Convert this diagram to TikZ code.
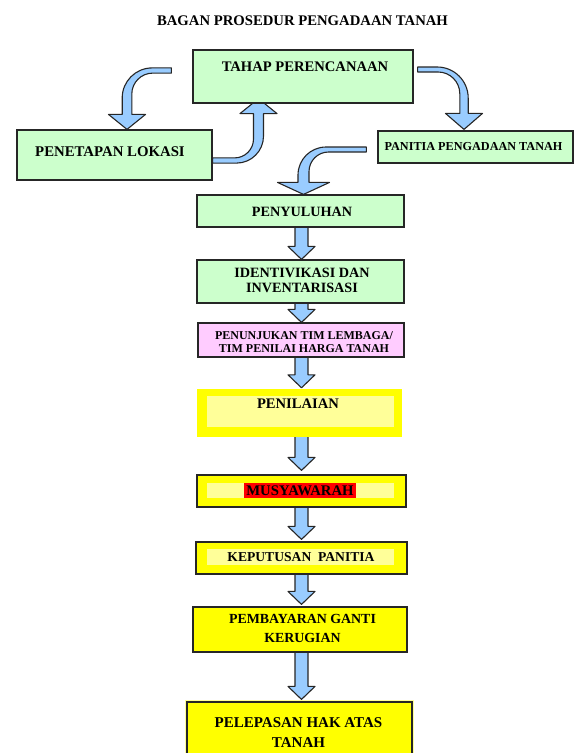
\documentclass[tikz,border=0pt]{standalone}
\usepackage{fontspec}
\setmainfont{Liberation Serif}
\usetikzlibrary{calc}
\pgfdeclarelayer{background}
\pgfsetlayers{background,main}

\definecolor{boxgreen}{HTML}{CCFFCC}
\definecolor{boxpink}{HTML}{FFCCFF}
\definecolor{boxyellow}{HTML}{FFFF00}
\definecolor{paleyellow}{HTML}{FFFF99}
\definecolor{arrowblue}{HTML}{99CCFF}
\definecolor{edgegray}{HTML}{262626}
\definecolor{markred}{HTML}{FF0000}

\newcommand\fs[2]{\fontsize{#1}{#2}\selectfont}

% straight block arrow from the bottom of one box to the top of the next
% #1 source node, #2 target node, #3 gap left above the target
\newcommand\vblock[3]{%
  \path[blockarrow] let \p1=(axis |- #1.south), \p2=(axis |- #2.north) in
    ({\x1-6.5pt},{\y1+1pt}) -- ({\x1-6.5pt},{\y2+#3+13pt})
    -- ({\x1-13.5pt},{\y2+#3+13pt}) -- (\x1,{\y2+#3})
    -- ({\x1+13.5pt},{\y2+#3+13pt}) -- ({\x1+6.5pt},{\y2+#3+13pt})
    -- ({\x1+6.5pt},{\y1+1pt}) -- cycle;}

% bent block arrow: horizontal tail turning into a vertical shaft with a head
% #1 tail, #2 tip, #3 side (+1 tail right of tip, -1 left), #4 head direction
% (-1 down, +1 up), #5 tail half width, #6 shaft half width, #7 head half width,
% #8 head length, #9 outer bend radius (inner radius is 0.7 of it)
\newcommand\bentarrow[9]{%
  \path[blockarrow] let \p1=(#1), \p2=(#2) in
    (\x1,{\y1-(#4)*(#5)})
    -- ({\x2-(#3)*(#6)+(#3)*(#9)},{\y1-(#4)*(#5)})
    .. controls ({\x2-(#3)*(#6)+(#3)*0.448*(#9)},{\y1-(#4)*(#5)})
            and ({\x2-(#3)*(#6)},{\y1-(#4)*(#5)+(#4)*0.448*(#9)}) ..
    ({\x2-(#3)*(#6)},{\y1-(#4)*(#5)+(#4)*(#9)})
    -- ({\x2-(#3)*(#6)},{\y2-(#4)*(#8)})
    -- ({\x2-(#3)*(#7)},{\y2-(#4)*(#8)})
    -- (\x2,\y2)
    -- ({\x2+(#3)*(#7)},{\y2-(#4)*(#8)})
    -- ({\x2+(#3)*(#6)},{\y2-(#4)*(#8)})
    -- ({\x2+(#3)*(#6)},{\y1+(#4)*(#5)+(#4)*0.7*(#9)})
    .. controls ({\x2+(#3)*(#6)},{\y1+(#4)*(#5)+(#4)*0.7*0.448*(#9)})
            and ({\x2+(#3)*(#6)+(#3)*0.7*0.448*(#9)},{\y1+(#4)*(#5)}) ..
    ({\x2+(#3)*(#6)+(#3)*0.7*(#9)},{\y1+(#4)*(#5)})
    -- (\x1,{\y1+(#4)*(#5)}) -- cycle;}

\tikzset{
  stepbox/.style={draw=edgegray, line width=1.2pt, inner sep=0pt, rectangle},
  greenbox/.style={stepbox, fill=boxgreen},
  pinkbox/.style={stepbox, fill=boxpink},
  yellowbox/.style={stepbox, fill=boxyellow},
  palepanel/.style={fill=paleyellow, inner sep=0pt, rectangle},
  boxtext/.style={inner sep=0pt, align=center, text=black},
  blockarrow/.style={fill=arrowblue, draw=edgegray, line width=1.1pt, line join=round},
}

\begin{document}
\begin{tikzpicture}[x=1pt, y=-1pt]
  \useasboundingbox (0,0) rectangle (581,753);

  % title
  \node[boxtext, font={\fs{14.7}{18}\bfseries}] (title) at (302.5,21)
    {BAGAN PROSEDUR PENGADAAN TANAH};

  % upper part
  \node[greenbox, minimum width=220pt, minimum height=53pt] (tahap) at (303,76.5) {};
  \node[boxtext, font={\fs{14.6}{18}\bfseries}] (tahapText) at (305,67) {TAHAP PERENCANAAN};

  \node[greenbox, minimum width=195pt, minimum height=50pt] (lokasi) at (114.5,155) {};
  \node[boxtext, font={\fs{14.8}{18}\bfseries}] (lokasiText) at (110,152) {PENETAPAN LOKASI};

  \node[greenbox, minimum width=195pt, minimum height=32pt] (panitia) at (475.5,147) {};
  \node[boxtext, font={\fs{12.2}{15}\bfseries}] (panitiaText) at (473.5,147) {PANITIA PENGADAAN TANAH};

  % main column
  \node[greenbox, minimum width=207pt, minimum height=32pt] (penyuluhan) at (300.5,211) {};
  \node[boxtext, font={\fs{14.2}{18}\bfseries}] (penyuluhanText) at (302,212) {PENYULUHAN};

  \node[greenbox, minimum width=207pt, minimum height=43pt] (ident) at (300.5,281.5) {};
  \node[boxtext, font={\fs{14.2}{15.5}\bfseries}] (identText) at (302,280.5)
    {IDENTIVIKASI DAN\\INVENTARISASI};

  \node[pinkbox, minimum width=206pt, minimum height=34pt] (tim) at (301,340) {};
  \node[boxtext, font={\fs{12}{12.5}\bfseries}] (timText) at (304,342)
    {PENUNJUKAN TIM LEMBAGA/\\TIM PENILAI HARGA TANAH};

  \node[rectangle, fill=boxyellow, inner sep=0pt, minimum width=205pt, minimum height=48pt] (penilaian) at (299.5,413) {};
  \node[palepanel, minimum width=187pt, minimum height=31pt] (penilaianPanel) at (300.5,411.5) {};
  \node[boxtext, font={\fs{14.6}{18}\bfseries}] (penilaianText) at (298,404) {PENILAIAN};

  \node[yellowbox, minimum width=209pt, minimum height=32pt] (musyawarah) at (301.5,491) {};
  \node[palepanel, minimum width=187pt, minimum height=15pt] (musyawarahPanel) at (300.5,490.5) {};
  \node[rectangle, fill=markred, inner sep=0pt, minimum width=112pt, minimum height=15pt] (musyawarahMark) at (300,490.5) {};
  \node[boxtext, font={\fs{14.7}{18}\bfseries}] (musyawarahText) at (300,490.5) {MUSYAWARAH};

  \node[yellowbox, minimum width=211pt, minimum height=32pt] (keputusan) at (301.5,558) {};
  \node[palepanel, minimum width=187pt, minimum height=16pt] (keputusanPanel) at (300.5,557) {};
  \node[boxtext, font={\fs{13.6}{18}\bfseries}] (keputusanText) at (301,557) {KEPUTUSAN\ \ PANITIA};

  \node[yellowbox, minimum width=214pt, minimum height=45pt] (bayar) at (300,629.5) {};
  \node[boxtext, font={\fs{13.9}{19}\bfseries}] (bayarText) at (302.5,628.5)
    {PEMBAYARAN GANTI\\KERUGIAN};

  \node[yellowbox, minimum width=225pt, minimum height=68pt,
        preaction={draw=paleyellow, line width=4.5pt}] (lepas) at (299.5,736) {};
  \node[boxtext, font={\fs{15}{20}\bfseries}] (lepasText) at (298.5,733)
    {PELEPASAN HAK ATAS\\TANAH};

  % arrows, kept behind the boxes
  \coordinate (axis) at (301.5,0);
  \coordinate (a1tail) at ($(tahap.west)+(-21,-6)$);
  \coordinate (a1tip) at ($(lokasi.north)+(12.5,0)$);
  \coordinate (a2tail) at ($(lokasi.east)+(0,5.5)$);
  \coordinate (a2tip) at ($(tahap.south)+(-44.5,-5)$);
  \coordinate (a3tail) at ($(tahap.east)+(4,-7)$);
  \coordinate (a3tip) at ($(panitia.north)+(-11.5,-1)$);
  \coordinate (a4tail) at ($(panitia.west)+(-11,2.5)$);
  \coordinate (a4tip) at ($(penyuluhan.north)+(3,0)$);

  \begin{pgfonlayer}{background}
    \fill[white] (0,0) rectangle (581,753);
    \bentarrow{a1tail}{a1tip}{1}{-1}{2.6pt}{4.8pt}{18.5pt}{15pt}{30pt}
    \bentarrow{a2tail}{a2tip}{-1}{1}{2.6pt}{5pt}{18.5pt}{15pt}{27pt}
    \bentarrow{a3tail}{a3tip}{-1}{-1}{2.5pt}{4.2pt}{18.5pt}{16pt}{31pt}
    \bentarrow{a4tail}{a4tip}{1}{-1}{2.5pt}{5.5pt}{26pt}{12pt}{28pt}

    \vblock{penyuluhan}{ident}{0pt}
    \vblock{ident}{tim}{0pt}
    \vblock{tim}{penilaian}{1pt}
    \vblock{penilaian}{musyawarah}{4pt}
    \vblock{musyawarah}{keputusan}{2pt}
    \vblock{keputusan}{bayar}{2pt}
    \vblock{bayar}{lepas}{2pt}
  \end{pgfonlayer}
\end{tikzpicture}
\end{document}
